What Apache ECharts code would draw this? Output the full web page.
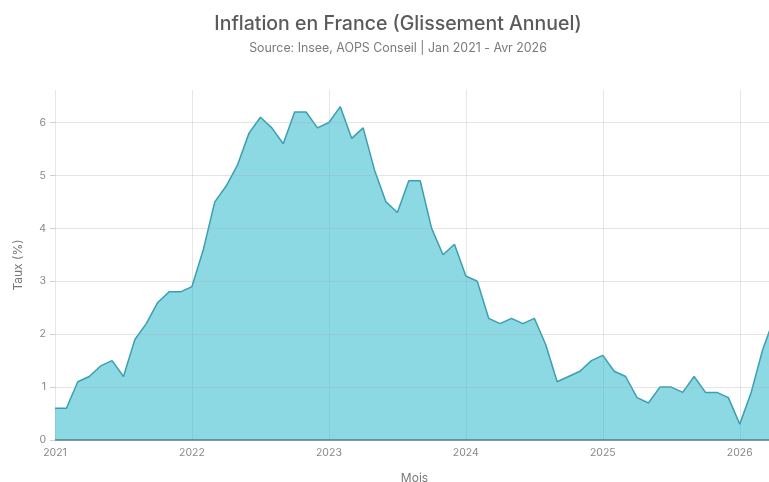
<!DOCTYPE html>
<html>
<head>
<meta charset="utf-8">
<script src="https://cdn.jsdelivr.net/npm/echarts@6/dist/echarts.min.js"></script>
<style>
  html, body { margin: 0; padding: 0; background: #fff; overflow: hidden; }
  #chart { width: 769px; height: 482px; }
</style>
</head>
<body>
<div id="chart"></div>
<script>
// Monthly year-on-year inflation, Jan 2021 - Apr 2026 (%)
const years = ['2021', '2022', '2023', '2024', '2025', '2026'];
const rates2021 = [0.6, 0.6, 1.1, 1.2, 1.4, 1.5, 1.2, 1.9, 2.2, 2.6, 2.8, 2.8];
const rates2022 = [2.9, 3.6, 4.5, 4.8, 5.2, 5.8, 6.1, 5.9, 5.6, 6.2, 6.2, 5.9];
const rates2023 = [6.0, 6.3, 5.7, 5.9, 5.1, 4.5, 4.3, 4.9, 4.9, 4.0, 3.5, 3.7];
const rates2024 = [3.1, 3.0, 2.3, 2.2, 2.3, 2.2, 2.3, 1.8, 1.1, 1.2, 1.3, 1.5];
const rates2025 = [1.6, 1.3, 1.2, 0.8, 0.7, 1.0, 1.0, 0.9, 1.2, 0.9, 0.9, 0.8];
const rates2026 = [0.3, 0.9, 1.7, 2.3];
const yTicks = [0, 1, 2, 3, 4, 5, 6];

const yearlyRates = [rates2021, rates2022, rates2023, rates2024, rates2025, rates2026];
const months = [];
const rates = [];
yearlyRates.forEach((arr, yi) => {
  arr.forEach((v, mi) => {
    months.push(years[yi] + '-' + String(mi + 1).padStart(2, '0'));
    rates.push(v);
  });
});
const yMax = Math.max(...rates) * 1.05;

const titleFont = 'Inter, Liberation Sans, Arial, sans-serif';
const labelFont = 'Inter, Liberation Sans, Arial, sans-serif';
const isJanuary = (idx) => idx % 12 === 0;

const chart = echarts.init(document.getElementById('chart'), null, { renderer: 'canvas' });
chart.setOption({
  backgroundColor: '#ffffff',
  animation: false,
  title: {
    text: 'Inflation en France (Glissement Annuel)',
    subtext: 'Source: Insee, AOPS Conseil | Jan 2021 - Avr 2026',
    left: 393,
    textAlign: 'center',
    top: 9,
    itemGap: 8,
    textStyle: { fontFamily: titleFont, fontSize: 19.5, fontWeight: 500, color: '#5a5a5a' },
    subtextStyle: { fontFamily: titleFont, fontSize: 12.4, color: '#7a7a7a' }
  },
  // fixed plot size; the last months run slightly past the right edge of the page
  grid: { left: 55, top: 90, width: 719, height: 350, outerBoundsMode: 'none', containLabel: false },
  xAxis: {
    type: 'category',
    data: months,
    boundaryGap: false,
    name: 'Mois',
    nameLocation: 'middle',
    nameGap: 32,
    nameTextStyle: { fontFamily: labelFont, fontSize: 12, color: '#777' },
    axisLine: { show: false },
    axisTick: { show: false },
    axisLabel: {
      interval: isJanuary,
      formatter: (v) => v.slice(0, 4),
      fontFamily: labelFont, fontSize: 10.5, color: '#888', margin: 7
    },
    splitLine: { show: true, interval: isJanuary, lineStyle: { color: '#e6e6e6', width: 1 } }
  },
  yAxis: {
    type: 'value',
    min: 0,
    max: yMax,
    name: 'Taux (%)',
    nameLocation: 'middle',
    nameGap: 31,
    nameRotate: 90,
    nameTextStyle: { fontFamily: labelFont, fontSize: 12, color: '#777' },
    axisLine: { show: false },
    axisTick: { show: true, length: 5, customValues: yTicks, lineStyle: { color: '#d0d0d0' } },
    axisLabel: {
      customValues: yTicks,
      fontFamily: labelFont, fontSize: 10.5, color: '#888', margin: 9
    },
    splitLine: { show: false }
  },
  series: [{
    type: 'line',
    data: rates,
    symbol: 'none',
    lineStyle: { color: '#3a9fb0', width: 1.5 },
    areaStyle: { color: 'rgba(46, 186, 206, 0.55)', opacity: 1, origin: 'start' },
    markLine: {
      silent: true,
      symbol: 'none',
      label: { show: false },
      animation: false,
      data: yTicks.map((t) => ({
        yAxis: t,
        lineStyle: t === 0
          ? { color: '#4f7d85', width: 1.5, type: 'solid' }
          : { color: 'rgba(170,170,170,0.3)', width: 1, type: 'solid' }
      }))
    }
  }]
});
</script>
</body>
</html>
